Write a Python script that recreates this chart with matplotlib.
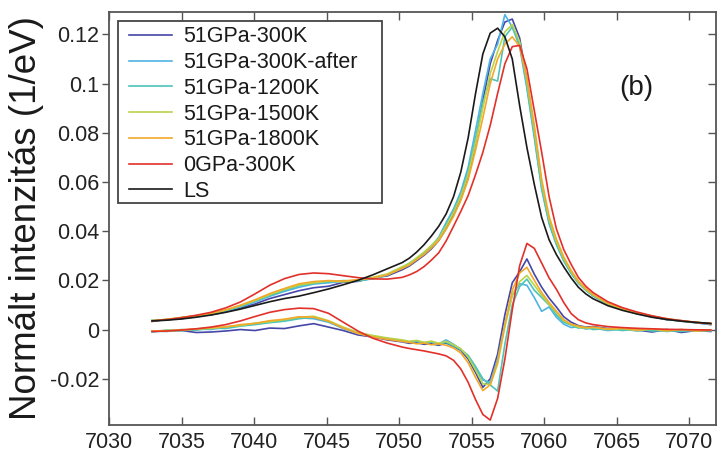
import matplotlib
matplotlib.use("Agg")
import matplotlib.pyplot as plt
from matplotlib.patches import Rectangle

plt.rcParams['font.family'] = ['Liberation Sans', 'DejaVu Sans']

# Photon energy grid (eV)
energy = [7032.97, 7033.99, 7035.00, 7036.01, 7037.03, 7038.04, 7039.06, 7040.07,
          7041.08, 7042.10, 7043.11, 7044.12, 7045.14, 7046.15, 7047.17, 7048.18,
          7049.19, 7050.21, 7050.71, 7051.22, 7051.73, 7052.23, 7052.74, 7053.25,
          7053.76, 7054.26, 7054.77, 7055.28, 7055.78, 7056.29, 7056.80, 7057.30,
          7057.81, 7058.32, 7058.82, 7059.33, 7059.84, 7060.35, 7060.85, 7061.36,
          7061.87, 7062.37, 7062.88, 7063.39, 7064.40, 7065.41, 7066.43, 7067.44,
          7068.46, 7069.47, 7070.48, 7071.50]

labels = ['51GPa-300K', '51GPa-300K-after', '51GPa-1200K', '51GPa-1500K',
          '51GPa-1800K', '0GPa-300K', 'LS']
colors = ['#4646a8', '#4fb4e4', '#4cc4b8', '#b8d448', '#f2a82a', '#e2302a', '#1a1a1a']

# Upper curves: normalized spectra
spec_51_300 = [0.0033, 0.0041, 0.0044, 0.0055, 0.0060, 0.0072, 0.0088, 0.0104, 0.0126, 0.0142,
               0.0158, 0.0170, 0.0176, 0.0192, 0.0196, 0.0210, 0.0218, 0.0243, 0.0258, 0.0280,
               0.0302, 0.0328, 0.0362, 0.0410, 0.0468, 0.0530, 0.0620, 0.0760, 0.0930, 0.1080,
               0.1175, 0.1250, 0.1262, 0.1185, 0.1010, 0.0810, 0.0590, 0.0440, 0.0355, 0.0285,
               0.0232, 0.0192, 0.0162, 0.0138, 0.0104, 0.0084, 0.0066, 0.0053, 0.0040, 0.0036,
               0.0028, 0.0020]
spec_51_300_after = [0.0036, 0.0040, 0.0047, 0.0053, 0.0064, 0.0075, 0.0092, 0.0112, 0.0135, 0.0155,
                     0.0172, 0.0185, 0.0190, 0.0196, 0.0199, 0.0206, 0.0221, 0.0250, 0.0266, 0.0290,
                     0.0310, 0.0338, 0.0375, 0.0435, 0.0490, 0.0560, 0.0660, 0.0810, 0.0960, 0.1100,
                     0.1160, 0.1280, 0.1230, 0.1150, 0.0980, 0.0780, 0.0570, 0.0430, 0.0345, 0.0278,
                     0.0228, 0.0188, 0.0160, 0.0136, 0.0102, 0.0082, 0.0064, 0.0052, 0.0042, 0.0034,
                     0.0027, 0.0022]
spec_51_1200 = [0.0038, 0.0039, 0.0049, 0.0054, 0.0063, 0.0078, 0.0094, 0.0116, 0.0138, 0.0160,
                0.0178, 0.0188, 0.0194, 0.0199, 0.0197, 0.0208, 0.0224, 0.0252, 0.0270, 0.0288,
                0.0312, 0.0340, 0.0372, 0.0425, 0.0480, 0.0548, 0.0640, 0.0780, 0.0920, 0.1020,
                0.1010, 0.1190, 0.1230, 0.1160, 0.0990, 0.0790, 0.0575, 0.0435, 0.0350, 0.0282,
                0.0230, 0.0190, 0.0160, 0.0137, 0.0103, 0.0083, 0.0065, 0.0053, 0.0041, 0.0035,
                0.0028, 0.0023]
spec_51_1500 = [0.0037, 0.0041, 0.0048, 0.0056, 0.0065, 0.0079, 0.0097, 0.0118, 0.0142, 0.0163,
                0.0181, 0.0190, 0.0197, 0.0194, 0.0201, 0.0212, 0.0226, 0.0255, 0.0268, 0.0292,
                0.0315, 0.0342, 0.0370, 0.0420, 0.0475, 0.0540, 0.0630, 0.0760, 0.0900, 0.1040,
                0.1130, 0.1210, 0.1240, 0.1170, 0.1010, 0.0810, 0.0595, 0.0448, 0.0358, 0.0288,
                0.0235, 0.0193, 0.0163, 0.0140, 0.0105, 0.0084, 0.0067, 0.0054, 0.0043, 0.0035,
                0.0029, 0.0024]
spec_51_1800 = [0.0035, 0.0042, 0.0049, 0.0057, 0.0066, 0.0080, 0.0099, 0.0121, 0.0146, 0.0167,
                0.0186, 0.0195, 0.0199, 0.0197, 0.0203, 0.0209, 0.0222, 0.0248, 0.0262, 0.0284,
                0.0305, 0.0332, 0.0362, 0.0408, 0.0460, 0.0525, 0.0610, 0.0730, 0.0860, 0.1000,
                0.1100, 0.1160, 0.1190, 0.1150, 0.1020, 0.0830, 0.0610, 0.0460, 0.0368, 0.0295,
                0.0240, 0.0197, 0.0166, 0.0142, 0.0107, 0.0086, 0.0068, 0.0055, 0.0044, 0.0036,
                0.0030, 0.0024]
spec_0_300 = [0.0035, 0.0040, 0.0048, 0.0058, 0.0070, 0.0088, 0.0112, 0.0145, 0.0180, 0.0207,
              0.0224, 0.0230, 0.0227, 0.0219, 0.0211, 0.0206, 0.0205, 0.0212, 0.0222, 0.0236,
              0.0256, 0.0282, 0.0312, 0.0360, 0.0420, 0.0480, 0.0545, 0.0630, 0.0720, 0.0830,
              0.0960, 0.1080, 0.1150, 0.1155, 0.1060, 0.0890, 0.0720, 0.0540, 0.0410, 0.0325,
              0.0265, 0.0212, 0.0176, 0.0150, 0.0113, 0.0089, 0.0071, 0.0056, 0.0044, 0.0036,
              0.0029, 0.0024]
spec_ls = [0.0035, 0.0038, 0.0043, 0.0050, 0.0059, 0.0070, 0.0083, 0.0098, 0.0113, 0.0126,
           0.0136, 0.0150, 0.0165, 0.0182, 0.0200, 0.0222, 0.0247, 0.0272, 0.0290, 0.0315,
           0.0345, 0.0380, 0.0420, 0.0470, 0.0540, 0.0640, 0.0780, 0.0960, 0.1120, 0.1205,
           0.1225, 0.1190, 0.1100, 0.0910, 0.0740, 0.0590, 0.0455, 0.0365, 0.0305, 0.0255,
           0.0210, 0.0172, 0.0145, 0.0125, 0.0097, 0.0078, 0.0063, 0.0050, 0.0041, 0.0034,
           0.0029, 0.0025]

# Lower curves: difference spectra (same colours, no LS)
diff_51_300 = [-0.0008, -0.0005, -0.0004, -0.0012, -0.0010, -0.0006, 0.0000, -0.0004, 0.0006, 0.0004,
               0.0015, 0.0024, 0.0010, -0.0004, -0.0022, -0.0030, -0.0042, -0.0050, -0.0056, -0.0054,
               -0.0060, -0.0058, -0.0064, -0.0055, -0.0068, -0.0085, -0.0120, -0.0175, -0.0235, -0.0200,
               -0.0100, 0.0060, 0.0190, 0.0235, 0.0287, 0.0225, 0.0172, 0.0128, 0.0092, 0.0052,
               0.0030, 0.0016, 0.0010, 0.0012, 0.0004, 0.0006, -0.0002, -0.0010, 0.0000, -0.0012,
               -0.0004, -0.0008]
diff_51_300_after = [-0.0010, -0.0002, -0.0006, 0.0002, 0.0000, 0.0010, 0.0015, 0.0024, 0.0030, 0.0036,
                     0.0048, 0.0044, 0.0030, 0.0004, -0.0016, -0.0028, -0.0036, -0.0048, -0.0052, -0.0048,
                     -0.0056, -0.0050, -0.0058, -0.0042, -0.0060, -0.0080, -0.0110, -0.0160, -0.0205, -0.0215,
                     -0.0120, 0.0020, 0.0140, 0.0186, 0.0180, 0.0130, 0.0074, 0.0092, 0.0050, 0.0022,
                     0.0008, 0.0012, 0.0002, 0.0006, -0.0004, 0.0002, -0.0006, 0.0000, -0.0008, -0.0002,
                     -0.0006, -0.0002]
diff_51_1200 = [-0.0006, -0.0008, 0.0000, -0.0003, 0.0006, 0.0004, 0.0014, 0.0020, 0.0028, 0.0034,
                0.0044, 0.0050, 0.0032, 0.0008, -0.0014, -0.0026, -0.0038, -0.0044, -0.0050, -0.0046,
                -0.0054, -0.0050, -0.0060, -0.0052, -0.0066, -0.0082, -0.0105, -0.0150, -0.0200, -0.0225,
                -0.0250, -0.0060, 0.0100, 0.0175, 0.0205, 0.0160, 0.0130, 0.0100, 0.0060, 0.0030,
                0.0018, 0.0006, 0.0010, 0.0000, 0.0004, -0.0004, 0.0002, -0.0006, -0.0002, -0.0008,
                -0.0002, -0.0006]
diff_51_1500 = [-0.0007, -0.0003, -0.0004, 0.0003, 0.0004, 0.0012, 0.0016, 0.0026, 0.0032, 0.0040,
                0.0050, 0.0054, 0.0036, 0.0010, -0.0012, -0.0024, -0.0034, -0.0042, -0.0048, -0.0044,
                -0.0052, -0.0047, -0.0056, -0.0048, -0.0062, -0.0078, -0.0112, -0.0165, -0.0220, -0.0225,
                -0.0140, 0.0010, 0.0140, 0.0195, 0.0220, 0.0180, 0.0140, 0.0102, 0.0070, 0.0036,
                0.0020, 0.0010, 0.0006, 0.0008, 0.0000, 0.0004, -0.0004, 0.0002, -0.0006, 0.0000,
                -0.0004, -0.0002]
diff_51_1800 = [-0.0005, -0.0006, -0.0001, 0.0002, 0.0008, 0.0010, 0.0020, 0.0025, 0.0036, 0.0042,
                0.0052, 0.0050, 0.0034, 0.0006, -0.0016, -0.0030, -0.0040, -0.0048, -0.0052, -0.0058,
                -0.0055, -0.0062, -0.0058, -0.0064, -0.0075, -0.0095, -0.0135, -0.0195, -0.0248, -0.0225,
                -0.0130, 0.0020, 0.0160, 0.0230, 0.0253, 0.0200, 0.0150, 0.0110, 0.0075, 0.0040,
                0.0022, 0.0014, 0.0008, 0.0010, 0.0002, 0.0005, -0.0002, 0.0003, -0.0004, 0.0000,
                -0.0006, -0.0003]
diff_0_300 = [-0.0008, -0.0006, -0.0002, 0.0003, 0.0010, 0.0020, 0.0035, 0.0053, 0.0070, 0.0081,
              0.0087, 0.0085, 0.0066, 0.0030, -0.0006, -0.0035, -0.0055, -0.0071, -0.0077, -0.0082,
              -0.0087, -0.0093, -0.0099, -0.0107, -0.0125, -0.0160, -0.0215, -0.0285, -0.0345, -0.0368,
              -0.0280, -0.0120, 0.0080, 0.0260, 0.0350, 0.0330, 0.0270, 0.0210, 0.0164, 0.0110,
              0.0065, 0.0040, 0.0027, 0.0020, 0.0012, 0.0008, 0.0005, 0.0003, 0.0001, 0.0000,
              -0.0001, -0.0002]

upper = [spec_51_300, spec_51_300_after, spec_51_1200, spec_51_1500, spec_51_1800, spec_0_300, spec_ls]
lower = [diff_51_300, diff_51_300_after, diff_51_1200, diff_51_1500, diff_51_1800, diff_0_300]

xticks = [7030, 7035, 7040, 7045, 7050, 7055, 7060, 7065, 7070]
yticks = [-0.02, 0, 0.02, 0.04, 0.06, 0.08, 0.1, 0.12]
ytick_labels = ['-0.02', '0', '0.02', '0.04', '0.06', '0.08', '0.1', '0.12']

W, H = 718, 454
fig = plt.figure(figsize=(W / 100, H / 100), dpi=100)
L, R, T, B = 109, 716, 11.7, 425
ax = fig.add_axes([L / W, 1 - B / H, (R - L) / W, (B - T) / H])

for vals, col, lab in zip(upper, colors, labels):
    ax.plot(energy, vals, color=col, lw=1.2, label=lab)
for vals, col in zip(lower, colors[:6]):
    ax.plot(energy, vals, color=col, lw=1.2, label='_nolegend_')

ax.set_xlim(7030, 7071.86)
ax.set_ylim(-0.0388, 0.1292)
ax.set_xticks(xticks)
ax.set_xticklabels([str(t) for t in xticks])
ax.set_yticks(yticks)
ax.set_yticklabels(ytick_labels)
ax.tick_params(axis='x', which='both', direction='in', length=6, width=1.0,
               labelsize=15.5, colors='#555555', labelcolor='#222222',
               top=True, pad=5)
ax.tick_params(axis='y', which='both', direction='out', length=5, width=1.0,
               labelsize=15.5, colors='#555555', labelcolor='#222222',
               right=False, pad=2)
sec = ax.secondary_yaxis('right')
sec.set_yticks(yticks)
sec.tick_params(direction='in', length=6, width=1.0, colors='#555555', labelright=False)
sec.spines['right'].set_visible(False)
for sp in ax.spines.values():
    sp.set_color('#555555')
    sp.set_linewidth(1.3)

ax.set_ylabel('Normált intenzitás (1/eV)', fontsize=26.5, color='#1a1a1a', labelpad=4)

ax.text(0.869, 0.815, '(b)', transform=ax.transAxes, fontsize=20,
        ha='center', va='center', color='#1a1a1a')

# legend box drawn as its own rectangle (wide right margin as in the reference)
def ax_x(px):
    return (px - L) / (R - L)

def ax_y(py):
    return (B - py) / (B - T)

box = Rectangle((ax_x(118), ax_y(203)), ax_x(382) - ax_x(118), ax_y(21) - ax_y(203),
                transform=ax.transAxes, facecolor='white', edgecolor='#444444',
                linewidth=1.3, zorder=5)
ax.add_patch(box)

leg = ax.legend(loc='upper left', bbox_to_anchor=(ax_x(124), ax_y(21)), borderaxespad=0,
                fontsize=15.5, frameon=False, handlelength=2.0,
                handletextpad=0.5, labelspacing=0.22, borderpad=0.25)
leg.set_zorder(6)
for t in leg.get_texts():
    t.set_color('#1a1a1a')

fig.savefig('out.png', dpi=100)
